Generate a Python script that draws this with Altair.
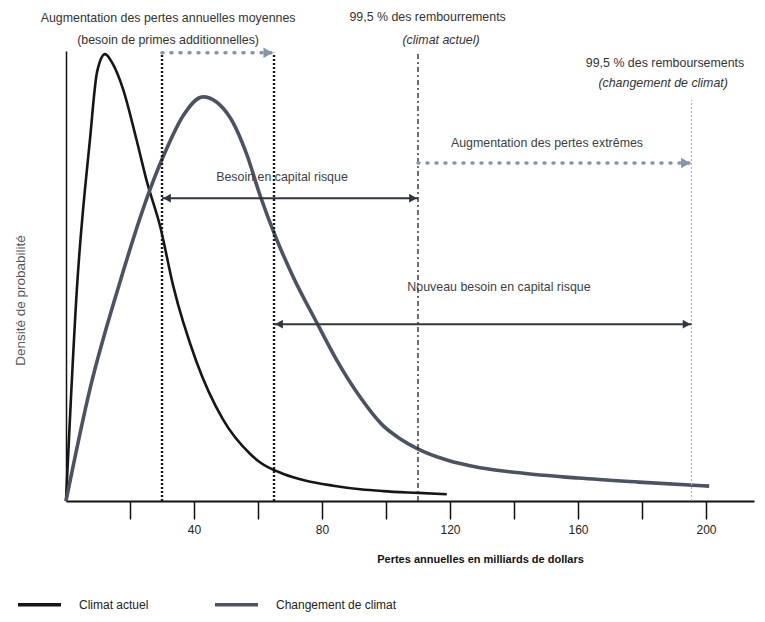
import altair as alt
import pandas as pd

# ---- data ----
series_names = ["Climat actuel", "Changement de climat"]

actuel_x = [0, 3.4, 7.5, 9.7, 12.2, 14.5, 17.8, 22, 25.3, 29.4, 33.5, 40.8, 49, 57.5, 60.6, 68, 75,
            83.5, 92, 99, 110, 119]
actuel_y = [0, 0.471, 0.804, 0.953, 0.993, 0.973, 0.916, 0.804, 0.709, 0.611, 0.478, 0.309, 0.182,
            0.105, 0.086, 0.060, 0.045, 0.034, 0.026, 0.022, 0.018, 0.015]

change_x = [0, 7.5, 16.5, 26.3, 31.4, 36.6, 42.8, 51.2, 56.5, 60.6, 65.9, 71, 78.4, 84.6, 91.9, 99,
            104.5, 109.6, 119, 129.4, 140, 160, 179, 201]
change_y = [0, 0.249, 0.478, 0.693, 0.782, 0.856, 0.898, 0.853, 0.77, 0.68, 0.58, 0.498, 0.396,
            0.313, 0.231, 0.168, 0.138, 0.117, 0.091, 0.074, 0.064, 0.051, 0.042, 0.033]

tick_values = [20, 40, 60, 80, 100, 120, 140, 160, 180, 200]

# vertical reference lines: moyenne actuelle, moyenne future, 99,5 % actuel, 99,5 % futur
vline_x = [30, 65, 110, 195.5]
vline_top = [0.996, 0.996, 1.0, 0.891]

# double arrows (capital risque)
darrow_x1 = [30, 65]
darrow_x2 = [110, 195.5]
darrow_y = [0.673, 0.393]

# dotted arrows (augmentations)
parrow_x1 = [30, 110]
parrow_x2 = [65, 195.5]
parrow_y = [0.996, 0.751]

# ---- tables ----
curve_a = pd.DataFrame({"perte": actuel_x, "densite": actuel_y, "serie": series_names[0]})
curve_c = pd.DataFrame({"perte": change_x, "densite": change_y, "serie": series_names[1]})

FONT = "Liberation Sans"
W, H = 688, 450

xscale = alt.Scale(domain=[0, 215], nice=False, zero=False)
yscale = alt.Scale(domain=[0, 1], nice=False)

xaxis = alt.Axis(
    values=tick_values, tickSize=18, tickWidth=1.5, tickColor="#111",
    domainColor="#111", domainWidth=2, grid=False,
    labelExpr="datum.value % 40 == 0 ? datum.label : ''",
    labelFont=FONT, labelFontSize=12, labelColor="#222", labelPadding=5,
    title="Pertes annuelles en milliards de dollars",
    titleFont=FONT, titleFontSize=11, titleFontWeight="bold", titleColor="#111",
    titleX=414, titleY=52, titleAlign="center", titleBaseline="top",
)
yaxis = alt.Axis(
    ticks=False, labels=False, grid=False, domainColor="#111", domainWidth=1.5,
    title="Densité de probabilité", titleFont=FONT, titleFontSize=13.5,
    titleFontWeight="normal", titleColor="#555", titleX=-46, titleY=249,
    titleAlign="center", titleBaseline="middle",
)


def X(field="perte:Q"):
    return alt.X(field, scale=xscale, axis=xaxis)


def Y(field="densite:Q"):
    return alt.Y(field, scale=yscale, axis=yaxis)


color_enc = alt.Color(
    "serie:N",
    scale=alt.Scale(domain=series_names, range=["#161616", "#4b5363"]),
    legend=alt.Legend(
        title=None, orient="none", legendX=-50, legendY=530, direction="horizontal",
        symbolType="stroke", symbolSize=1850, symbolStrokeWidth=3.5,
        labelFont=FONT, labelFontSize=12, labelColor="#222", labelOffset=16,
        columnPadding=58,
    ),
)

line_a = alt.Chart(curve_a).mark_line(interpolate="monotone", strokeWidth=2.6).encode(
    x=X(), y=Y(), color=color_enc)
line_c = alt.Chart(curve_c).mark_line(interpolate="monotone", strokeWidth=3.6).encode(
    x=X(), y=Y(), color=color_enc)

vl = pd.DataFrame({"perte": vline_x, "densite": [0.0] * 4, "top": vline_top})
vdot = alt.Chart(vl.iloc[0:2]).mark_rule(color="#1a1a1a", strokeWidth=2.4, strokeDash=[2, 2]).encode(
    x=X(), y=Y(), y2="top:Q")
vdashdot = alt.Chart(vl.iloc[2:3]).mark_rule(color="#222", strokeWidth=1.3, strokeDash=[5, 3, 2, 3]).encode(
    x=X(), y=Y(), y2="top:Q")
vlight = alt.Chart(vl.iloc[3:4]).mark_rule(color="#a9b6c6", strokeWidth=1.2, strokeDash=[2, 2]).encode(
    x=X(), y=Y(), y2="top:Q")

da = pd.DataFrame({"perte": darrow_x1, "x2": darrow_x2, "densite": darrow_y})
darrows = alt.Chart(da).mark_rule(color="#2f3642", strokeWidth=2).encode(x=X(), x2="x2:Q", y=Y())
dleft = alt.Chart(da).mark_point(shape="triangle-left", filled=True, size=80, opacity=1,
                                 color="#2f3642", xOffset=5).encode(x=X(), y=Y())
dright = alt.Chart(da).mark_point(shape="triangle-right", filled=True, size=80, opacity=1,
                                  color="#2f3642", xOffset=-5).encode(x=X("x2:Q"), y=Y())

pa = pd.DataFrame({"perte": parrow_x1, "x2": parrow_x2, "densite": parrow_y})
parrows = alt.Chart(pa).mark_rule(color="#8795a8", strokeWidth=3.5, strokeDash=[1, 8],
                                  strokeCap="round").encode(x=X(), x2="x2:Q", y=Y())
pright = alt.Chart(pa).mark_point(shape="triangle-right", filled=True, size=110, opacity=1,
                                  color="#8795a8", xOffset=-6).encode(x=X("x2:Q"), y=Y())

# ---- annotations ----
ann_main = pd.DataFrame({
    "perte": [31.9, 31.9, 113.0, 187.2],
    "densite": [1.073, 1.024, 1.075, 0.973],
    "txt": ["Augmentation des pertes annuelles moyennes", "(besoin de primes additionnelles)",
            "99,5 % des rembourrements", "99,5 % des remboursements"],
})
t_main = alt.Chart(ann_main).mark_text(font=FONT, fontSize=12.4, color="#333", baseline="middle").encode(
    x=X(), y=Y(), text="txt:N")

ann_it = pd.DataFrame({
    "perte": [117.2, 186.6],
    "densite": [1.024, 0.929],
    "txt": ["(climat actuel)", "(changement de climat)"],
})
t_it = alt.Chart(ann_it).mark_text(font=FONT, fontSize=12.4, fontStyle="italic", color="#333",
                                   baseline="middle").encode(x=X(), y=Y(), text="txt:N")

ann_in = pd.DataFrame({
    "perte": [67.5, 150.3, 135.3],
    "densite": [0.72, 0.796, 0.476],
    "txt": ["Besoin en capital risque", "Augmentation des pertes extrêmes",
            "Nouveau besoin en capital risque"],
})
t_in = alt.Chart(ann_in).mark_text(font=FONT, fontSize=12.4, color="#3a3f48", baseline="middle").encode(
    x=X(), y=Y(), text="txt:N")

chart = alt.layer(
    line_a, line_c, vdot, vdashdot, vlight, parrows, pright, darrows, dleft, dright, t_main, t_it, t_in
).properties(
    width=W, height=H,
    autosize=alt.AutoSizeParams(type="none"),
    padding={"left": 58, "top": 43, "right": 3, "bottom": 113},
).configure_view(stroke=None)

chart.save("out.html", embed_options={"renderer": "svg", "actions": False})
